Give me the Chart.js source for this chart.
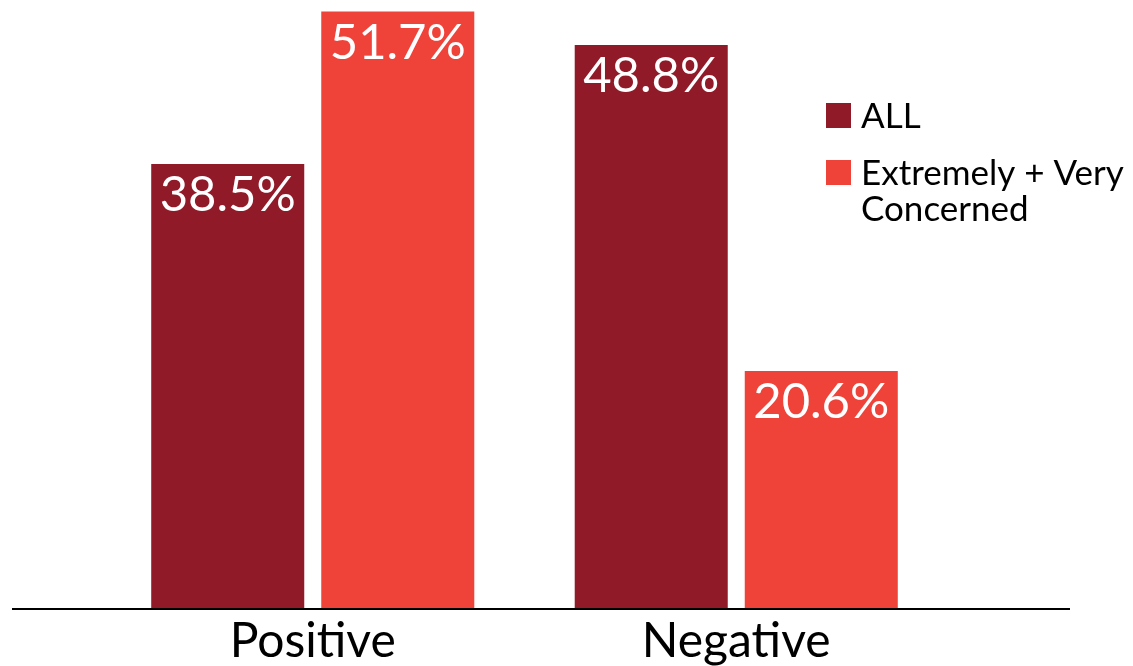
<!DOCTYPE html>
<html>
<head>
<meta charset="utf-8">
<script src="https://cdn.jsdelivr.net/npm/chart.js@4.4.1/dist/chart.umd.min.js"></script>
<style>
html,body{margin:0;padding:0;background:#fff;}
#wrap{width:1133px;height:666px;position:relative;}
</style>
</head>
<body>
<div id="wrap"><canvas id="c" width="1133" height="666"></canvas></div>
<script>
const categories = ["Positive", "Negative"];
const seriesNames = [["ALL"], ["Extremely + Very", "Concerned"]];
const allValues = [38.5, 48.8];
const concernedValues = [51.7, 20.6];
const seriesColors = ["#911A29", "#EF433A"];

const FONT = "Lato, 'Open Sans', sans-serif";

const extrasPlugin = {
  id: 'extras',
  afterDatasetsDraw(chart) {
    const ctx = chart.ctx;
    const area = chart.chartArea;
    // value labels
    ctx.save();
    ctx.fillStyle = '#fff';
    ctx.font = '49px ' + FONT;
    ctx.textAlign = 'center';
    ctx.textBaseline = 'alphabetic';
    chart.data.datasets.forEach((ds, di) => {
      const meta = chart.getDatasetMeta(di);
      meta.data.forEach((bar, i) => {
        ctx.fillText(ds.data[i].toFixed(1) + '%', bar.x, bar.y + 47);
      });
    });
    ctx.restore();
    // baseline axis line
    ctx.save();
    ctx.strokeStyle = '#000';
    ctx.lineWidth = 2;
    ctx.beginPath();
    ctx.moveTo(12, area.bottom);
    ctx.lineTo(1070, area.bottom);
    ctx.stroke();
    ctx.restore();
    // legend
    ctx.save();
    ctx.font = '35px ' + FONT;
    ctx.textAlign = 'left';
    ctx.textBaseline = 'alphabetic';
    const lx = 826, ys = [103, 160];
    chart.data.datasets.forEach((ds, di) => {
      ctx.fillStyle = ds.backgroundColor;
      ctx.fillRect(lx, ys[di], 25, 25);
      ctx.fillStyle = '#000';
      seriesNames[di].forEach((line, li) => {
        ctx.fillText(line, 861, ys[di] + 25 + li * 36);
      });
    });
    ctx.restore();
  }
};

new Chart(document.getElementById('c'), {
  type: 'bar',
  data: {
    labels: categories,
    datasets: [
      { label: seriesNames[0].join(' '), data: allValues, backgroundColor: seriesColors[0] },
      { label: seriesNames[1].join(' '), data: concernedValues, backgroundColor: seriesColors[1] }
    ]
  },
  options: {
    responsive: false,
    animation: false,
    devicePixelRatio: 1,
    layout: { padding: { left: 101, right: 185, top: 0, bottom: 0 } },
    plugins: { legend: { display: false }, tooltip: { enabled: false } },
    datasets: { bar: { barPercentage: 0.9, categoryPercentage: 0.803 } },
    scales: {
      y: { display: false, min: 0, max: 52.7 },
      x: {
        grid: { display: false, drawTicks: false, tickLength: 0 },
        border: { display: false },
        ticks: { color: '#000', font: { size: 48, family: FONT }, padding: 4, maxRotation: 0 },
        afterFit(scale) { scale.height = 57; }
      }
    }
  },
  plugins: [extrasPlugin]
});
</script>
</body>
</html>
